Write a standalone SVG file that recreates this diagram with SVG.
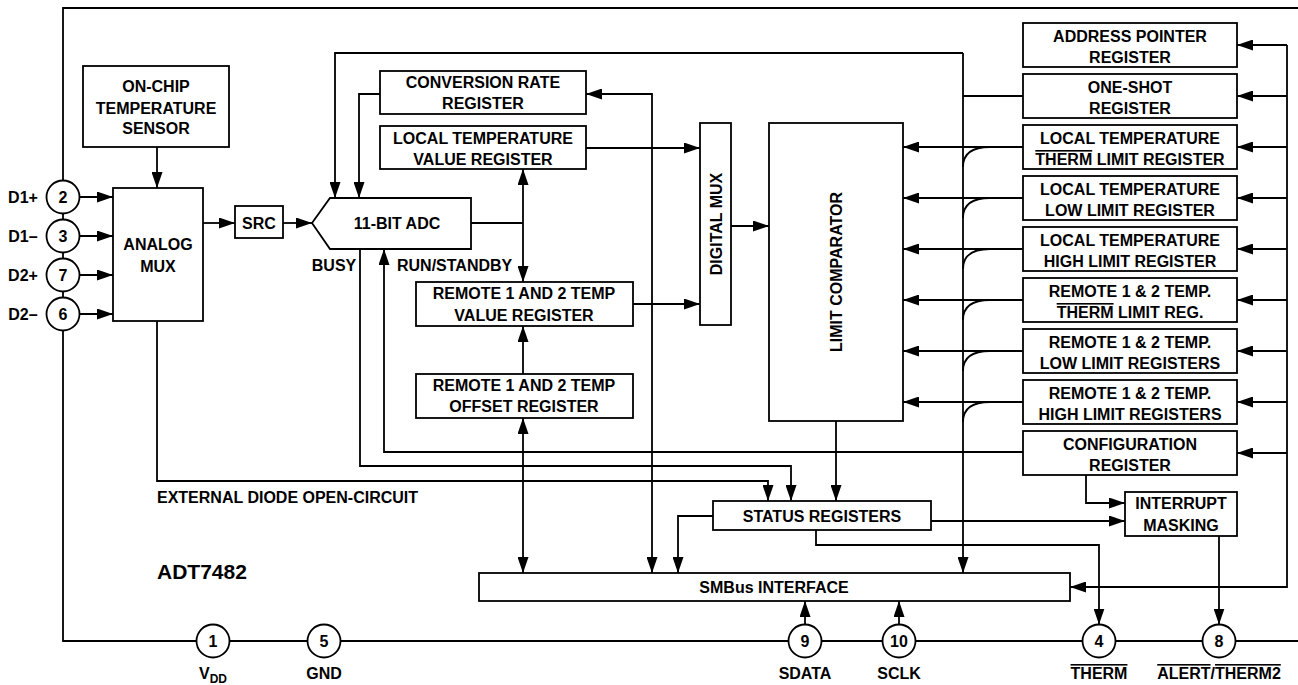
<svg xmlns="http://www.w3.org/2000/svg" width="1298" height="685" viewBox="0 0 1298 685">
<style>
.b{fill:#fff;stroke:#000;stroke-width:1.8}
.l{fill:none;stroke:#000;stroke-width:1.8}
.a{marker-end:url(#ah)}
.d{marker-start:url(#ah);marker-end:url(#ah)}
text{font-family:"Liberation Sans",Arial,Helvetica,sans-serif;font-weight:bold;font-size:16px;text-anchor:middle;fill:#000}
.ov{text-decoration:overline}
</style>
<defs>
<marker id="ah" viewBox="0 0 16 11" refX="16" refY="5.5" markerWidth="16" markerHeight="11" markerUnits="userSpaceOnUse" orient="auto-start-reverse"><path d="M0,0L16,5.5L0,11z" fill="#000"/></marker>
</defs>
<rect width="1298" height="685" fill="#fff"/>
<g id="connectors">
<path class="l" d="M1298,8H63V641H1298"/>
<path class="l a" d="M157,147V188"/>
<path class="l a" d="M79.5,197H113"/>
<path class="l a" d="M79.5,236H113"/>
<path class="l a" d="M79.5,275H113"/>
<path class="l a" d="M79.5,314H113"/>
<path class="l a" d="M203,223H235"/>
<path class="l a" d="M283,223H312"/>
<path class="l" d="M1023,96H963"/>
<path class="l a" d="M963,53H335V198"/>
<path class="l a" d="M963,53V573"/>
<path class="l a" d="M380,94H359V198"/>
<path class="l d" d="M652,573V94H586"/>
<path class="l a" d="M586,148H700"/>
<path class="l" d="M471,223H523"/>
<path class="l d" d="M523,169V282"/>
<path class="l a" d="M633,304H700"/>
<path class="l a" d="M731,226H769"/>
<path class="l a" d="M523,374V326"/>
<path class="l d" d="M523,418V573"/>
<path class="l a" d="M1023,147H903"/>
<path class="l a" d="M1023,198H903"/>
<path class="l a" d="M1023,249H903"/>
<path class="l a" d="M1023,300H903"/>
<path class="l a" d="M1023,351H903"/>
<path class="l a" d="M1023,402H903"/>
<path class="l" d="M963,167C963,153 972,147 990,147"/>
<path class="l" d="M963,218C963,204 972,198 990,198"/>
<path class="l" d="M963,269C963,255 972,249 990,249"/>
<path class="l" d="M963,320C963,306 972,300 990,300"/>
<path class="l" d="M963,371C963,357 972,351 990,351"/>
<path class="l" d="M963,422C963,408 972,402 990,402"/>
<path class="l a" d="M1023,452H384V249"/>
<path class="l a" d="M360,249V466H791V501"/>
<path class="l a" d="M157,321V481H768V501"/>
<path class="l a" d="M836,421V501"/>
<path class="l a" d="M713,516H678V573"/>
<path class="l a" d="M931,521H1125"/>
<path class="l a" d="M1086,475V503H1125"/>
<path class="l a" d="M816,530V545H1099V624.5"/>
<path class="l a" d="M1219,536V624.5"/>
<path class="l a" d="M1287,45V587H1070"/>
<path class="l a" d="M1287,45H1237"/>
<path class="l a" d="M1287,96H1237"/>
<path class="l a" d="M1287,147H1237"/>
<path class="l a" d="M1287,198H1237"/>
<path class="l a" d="M1287,249H1237"/>
<path class="l a" d="M1287,300H1237"/>
<path class="l a" d="M1287,351H1237"/>
<path class="l a" d="M1287,402H1237"/>
<path class="l a" d="M1287,453H1237"/>
<path class="l a" d="M805,624.5V601"/>
<path class="l a" d="M899,624.5V601"/>
</g>
<g id="pin2"><circle class="b" cx="63" cy="197" r="16.5"/><text x="63" y="202.5">2</text><text x="23" y="202.5">D1+</text></g>
<g id="pin3"><circle class="b" cx="63" cy="236" r="16.5"/><text x="63" y="241.5">3</text><text x="23" y="241.5">D1–</text></g>
<g id="pin7"><circle class="b" cx="63" cy="275" r="16.5"/><text x="63" y="280.5">7</text><text x="23" y="280.5">D2+</text></g>
<g id="pin6"><circle class="b" cx="63" cy="314" r="16.5"/><text x="63" y="319.5">6</text><text x="23" y="319.5">D2–</text></g>
<g id="pin1"><circle class="b" cx="213" cy="641" r="16.5"/><text x="213" y="646.5">1</text><text x="213" y="679">V<tspan font-size="12" dy="4">DD</tspan></text></g>
<g id="pin5"><circle class="b" cx="324" cy="641" r="16.5"/><text x="324" y="646.5">5</text><text x="324" y="679">GND</text></g>
<g id="pin9"><circle class="b" cx="805" cy="641" r="16.5"/><text x="805" y="646.5">9</text><text x="805" y="679">SDATA</text></g>
<g id="pin10"><circle class="b" cx="899" cy="641" r="16.5"/><text x="899" y="646.5">10</text><text x="899" y="679">SCLK</text></g>
<g id="pin4"><circle class="b" cx="1099" cy="641" r="16.5"/><text x="1099" y="646.5">4</text><text x="1099" y="679"><tspan class="ov">THERM</tspan></text></g>
<g id="pin8"><circle class="b" cx="1219" cy="641" r="16.5"/><text x="1219" y="646.5">8</text><text x="1219" y="679"><tspan class="ov">ALERT</tspan>/<tspan class="ov">THERM2</tspan></text></g>
<g id="sensor"><rect class="b" x="83" y="66" width="146" height="81"/><text x="156" y="92">ON-CHIP</text><text x="156" y="114">TEMPERATURE</text><text x="156" y="134">SENSOR</text></g>
<g id="analogmux"><rect class="b" x="113" y="188" width="90" height="133"/><text x="158" y="250">ANALOG</text><text x="158" y="272">MUX</text></g>
<g id="src"><rect class="b" x="235" y="206" width="48" height="32"/><text x="259" y="229">SRC</text></g>
<g id="adc"><path class="b" d="M312,223L330,198H471V249H330Z"/><text x="397" y="229">11-BIT ADC</text><text x="334" y="271">BUSY</text><text x="397" y="271" style="text-anchor:start">RUN/STANDBY</text></g>
<g id="convrate"><rect class="b" x="380" y="71" width="206" height="43"/><text x="483" y="88">CONVERSION RATE</text><text x="483" y="109">REGISTER</text></g>
<g id="localval"><rect class="b" x="380" y="126" width="206" height="43"/><text x="483" y="144">LOCAL TEMPERATURE</text><text x="483" y="165">VALUE REGISTER</text></g>
<g id="remoteval"><rect class="b" x="416" y="282" width="217" height="44"/><text x="524" y="299">REMOTE 1 AND 2 TEMP</text><text x="524" y="321">VALUE REGISTER</text></g>
<g id="offset"><rect class="b" x="416" y="374" width="217" height="44"/><text x="524" y="391">REMOTE 1 AND 2 TEMP</text><text x="524" y="412">OFFSET REGISTER</text></g>
<g id="digmux"><rect class="b" x="700" y="123" width="31" height="202"/><text transform="translate(716,224) rotate(-90)" y="5.5">DIGITAL MUX</text></g>
<g id="comparator"><rect class="b" x="769" y="123" width="134" height="298"/><text transform="translate(836,272) rotate(-90)" y="5.5">LIMIT COMPARATOR</text></g>
<g id="addrptr"><rect class="b" x="1023" y="23" width="214" height="44"/><text x="1130" y="42">ADDRESS POINTER</text><text x="1130" y="63">REGISTER</text></g>
<g id="oneshot"><rect class="b" x="1023" y="74" width="214" height="44"/><text x="1130" y="93">ONE-SHOT</text><text x="1130" y="114">REGISTER</text></g>
<g id="localtherm"><rect class="b" x="1023" y="125" width="214" height="44"/><text x="1130" y="144">LOCAL TEMPERATURE</text><text x="1130" y="165"><tspan class="ov">THERM</tspan> LIMIT REGISTER</text></g>
<g id="locallow"><rect class="b" x="1023" y="176" width="214" height="44"/><text x="1130" y="195">LOCAL TEMPERATURE</text><text x="1130" y="216">LOW LIMIT REGISTER</text></g>
<g id="localhigh"><rect class="b" x="1023" y="227" width="214" height="44"/><text x="1130" y="246">LOCAL TEMPERATURE</text><text x="1130" y="267">HIGH LIMIT REGISTER</text></g>
<g id="remotetherm"><rect class="b" x="1023" y="278" width="214" height="44"/><text x="1130" y="297">REMOTE 1 &amp; 2 TEMP.</text><text x="1130" y="318"><tspan class="ov">THERM</tspan> LIMIT REG.</text></g>
<g id="remotelow"><rect class="b" x="1023" y="329" width="214" height="44"/><text x="1130" y="348">REMOTE 1 &amp; 2 TEMP.</text><text x="1130" y="369">LOW LIMIT REGISTERS</text></g>
<g id="remotehigh"><rect class="b" x="1023" y="380" width="214" height="44"/><text x="1130" y="399">REMOTE 1 &amp; 2 TEMP.</text><text x="1130" y="420">HIGH LIMIT REGISTERS</text></g>
<g id="config"><rect class="b" x="1023" y="431" width="214" height="44"/><text x="1130" y="450">CONFIGURATION</text><text x="1130" y="471">REGISTER</text></g>
<g id="interrupt"><rect class="b" x="1125" y="492" width="112" height="44"/><text x="1181" y="509">INTERRUPT</text><text x="1181" y="531">MASKING</text></g>
<g id="status"><rect class="b" x="713" y="501" width="218" height="29"/><text x="822" y="521.5">STATUS REGISTERS</text></g>
<g id="smbus"><rect class="b" x="479" y="573" width="591" height="28"/><text x="774" y="593">SMBus INTERFACE</text></g>
<g id="labels"><text x="157" y="503" style="text-anchor:start">EXTERNAL DIODE OPEN-CIRCUIT</text><text x="157" y="579" style="text-anchor:start;font-size:21px">ADT7482</text></g>
</svg>
